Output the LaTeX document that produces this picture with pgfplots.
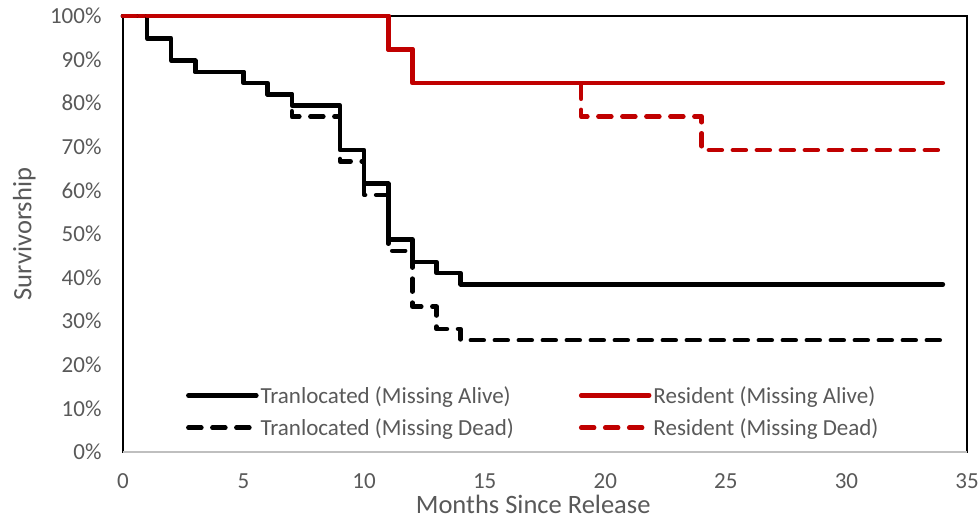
\documentclass[border=0pt]{standalone}
\usepackage{pgfplots}
\pgfplotsset{compat=1.18}
\usepackage{fontspec}
\setmainfont{Carlito}
\definecolor{txtgray}{HTML}{595959}
\definecolor{resred}{HTML}{C00000}
\definecolor{axgray}{HTML}{BFBFBF}
\begin{document}
\begin{tikzpicture}
\path[use as bounding box] (0,0) rectangle (980pt,519pt);
\begin{axis}[
  at={(123pt,67pt)}, anchor=south west,
  scale only axis, width=844pt, height=436pt,
  xmin=0, xmax=35, ymin=0, ymax=100,
  clip=false,
  axis line style={black, line width=1.8pt},
  major tick length=0pt,
  xtick={0,5,...,35}, xticklabels={0,5,10,15,20,25,30,35},
  ytick={0,10,...,100}, yticklabels={0\%,10\%,20\%,30\%,40\%,50\%,60\%,70\%,80\%,90\%,100\%},
  ticklabel style={font=\fontsize{23}{27}\selectfont, text=txtgray},
  xticklabel style={yshift=-18pt},
  yticklabel style={xshift=-18pt},
  xlabel={Months Since Release}, ylabel={Survivorship},
  label style={font=\fontsize{26.5}{30}\selectfont, text=txtgray},
  xlabel style={at={(axis description cs:0.486,-0.140)}, anchor=base},
  ylabel style={at={(axis description cs:-0.117,0.5)}, anchor=center},
  legend columns=2,
  legend style={at={(rel axis cs:0.071,0.025)}, anchor=south west, draw=none, fill=none,
    font=\fontsize{23}{27}\selectfont, text=txtgray,
    /tikz/every even column/.append style={column sep=63pt}, row sep=10pt},
  legend cell align=left,
  legend image code/.code={\draw[#1] (0pt,0pt) -- (68pt,0pt);},
  every axis plot/.append style={line width=4.5pt, const plot, mark=none, line join=round, line cap=round},
  dashstyle/.style={dash pattern=on 13pt off 11pt, line cap=round},
]
% Translocated, missing alive
\addplot[black] coordinates {
(0,100) (1,94.87) (2,89.74) (3,87.18) (5,84.62) (6,82.05) (7,79.49) (9,69.23) (10,61.54) (11,48.72) (12,43.59) (13,41.03) (14,38.46) (34,38.46)};
\addlegendentry{Tranlocated (Missing Alive)}
% Resident, missing alive
\addplot[resred] coordinates {
(0,100) (11,92.31) (12,84.62) (34,84.62)};
\addlegendentry{Resident (Missing Alive)}
% Translocated, missing dead
\addplot[black, dashstyle, line cap=round] coordinates {
(0,100) (1,94.87) (2,89.74) (3,87.18) (5,84.62) (6,82.05) (7,76.92) (9,66.67) (10,58.97) (11,46.15) (12,33.33) (13,28.21) (14,25.64) (34,25.64)};
\addlegendentry{Tranlocated (Missing Dead)}
% Resident, missing dead
\addplot[resred, dashstyle, line cap=round] coordinates {
(0,100) (11,92.31) (12,84.62) (19,76.92) (24,69.23) (34,69.23)};
\addlegendentry{Resident (Missing Dead)}
\draw[axgray, line width=2pt] (rel axis cs:0,0) -- (rel axis cs:1,0);
\end{axis}
\end{tikzpicture}
\end{document}
